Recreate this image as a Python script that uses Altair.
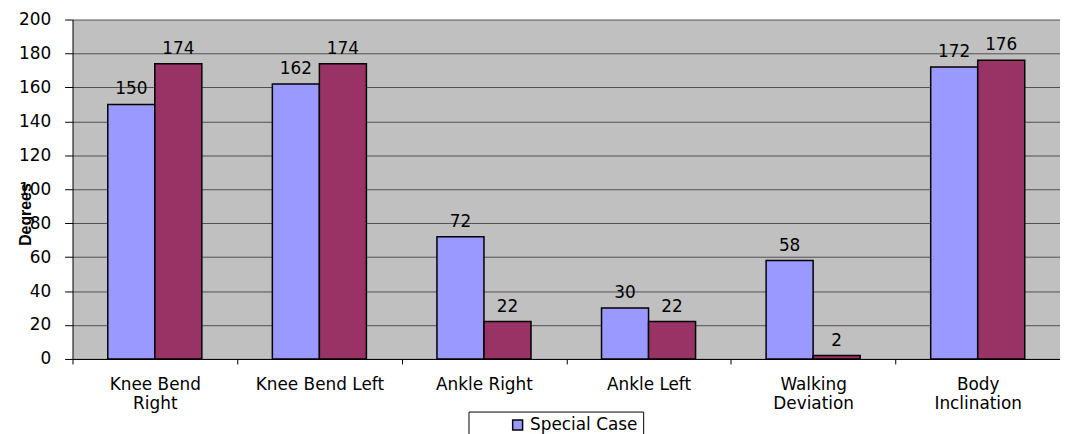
import altair as alt
import pandas as pd

categories = ["Knee Bend Right", "Knee Bend Left", "Ankle Right",
              "Ankle Left", "Walking Deviation", "Body Inclination"]
label_lines = [["Knee Bend", "Right"], ["Knee Bend Left"], ["Ankle Right"],
               ["Ankle Left"], ["Walking", "Deviation"], ["Body", "Inclination"]]
series_names = ["Special Case", "Normal Case"]
special_case = [150, 162, 72, 30, 58, 172]
normal_case = [174, 174, 22, 22, 2, 176]
y_ticks = [0, 20, 40, 60, 80, 100, 120, 140, 160, 180, 200]
colors = ["#9999FF", "#993366"]

rows = []
for c, s, n in zip(categories, special_case, normal_case):
    rows.append({"cat": c, "series": series_names[0], "value": s})
    rows.append({"cat": c, "series": series_names[1], "value": n})
df = pd.DataFrame(rows)

expr = ""
for c, lines in zip(categories, label_lines):
    arr = "[" + ",".join("'" + l + "'" for l in lines) + "]"
    expr += f"datum.label == '{c}' ? {arr} : "
expr += "datum.label"

FONT = "DejaVu Sans"
FS = 17

x_enc = alt.X("cat:N", sort=categories, title=None,
              scale=alt.Scale(paddingInner=0, paddingOuter=0),
              axis=alt.Axis(labelAngle=0, labelExpr=expr, tickBand="extent",
                            labelFont=FONT, labelFontSize=FS, labelColor="#000000",
                            labelLineHeight=19, labelBaseline="top",
                            labelPadding=13, tickSize=5, tickColor="#000000",
                            domainColor="#000000", labelLimit=300, grid=False,
                            labelOverlap=False))
xo_enc = alt.XOffset("series:N", sort=series_names,
                     scale=alt.Scale(paddingOuter=0.75, paddingInner=0))
y_enc = alt.Y("value:Q", scale=alt.Scale(domain=[0, 200], nice=False),
              axis=alt.Axis(values=y_ticks, tickCount=11, title="Degrees",
                            titleFont="Liberation Sans",
                            titleFontSize=16, titleFontWeight="bold", titleAngle=270,
                            titleX=-42, titleY=196, titleAlign="center",
                            titleBaseline="alphabetic", titleColor="#000000",
                            labelFont=FONT, labelFontSize=FS, labelColor="#000000",
                            labelPadding=14, tickSize=8, tickColor="#000000",
                            labelOverlap=False,
                            domainColor="#000000", gridColor="#505050", gridWidth=1))

base = alt.Chart(df)

bars = base.mark_bar(stroke="#000000", strokeWidth=1.5).encode(
    x=x_enc,
    xOffset=xo_enc,
    y=y_enc,
    color=alt.Color("series:N", sort=series_names,
                    scale=alt.Scale(domain=series_names, range=colors),
                    legend=alt.Legend(title=None, orient="none", legendX=399, legendY=395,
                                      direction="vertical", strokeColor="#000000",
                                      fillColor="#FFFFFF", padding=5, symbolOffset=36,
                                      symbolType="square", symbolSize=100,
                                      symbolStrokeColor="#000000", symbolStrokeWidth=1.5,
                                      labelFont=FONT, labelFontSize=FS, labelColor="#000000")),
)

labels = base.mark_text(font=FONT, fontSize=FS, color="#000000",
                        baseline="alphabetic", dy=-10).encode(
    x=x_enc,
    xOffset=xo_enc,
    y=y_enc,
    text="value:Q",
)

chart = alt.layer(bars, labels).properties(
    width=995, height=342,
    autosize=alt.AutoSizeParams(type="none"),
    padding={"left": 65, "top": 10, "right": 0, "bottom": 74},
    background="#FFFFFF",
).configure_view(fill="#C0C0C0", stroke="transparent")

chart.save("out.html", embed_options={"renderer": "svg", "actions": False})
